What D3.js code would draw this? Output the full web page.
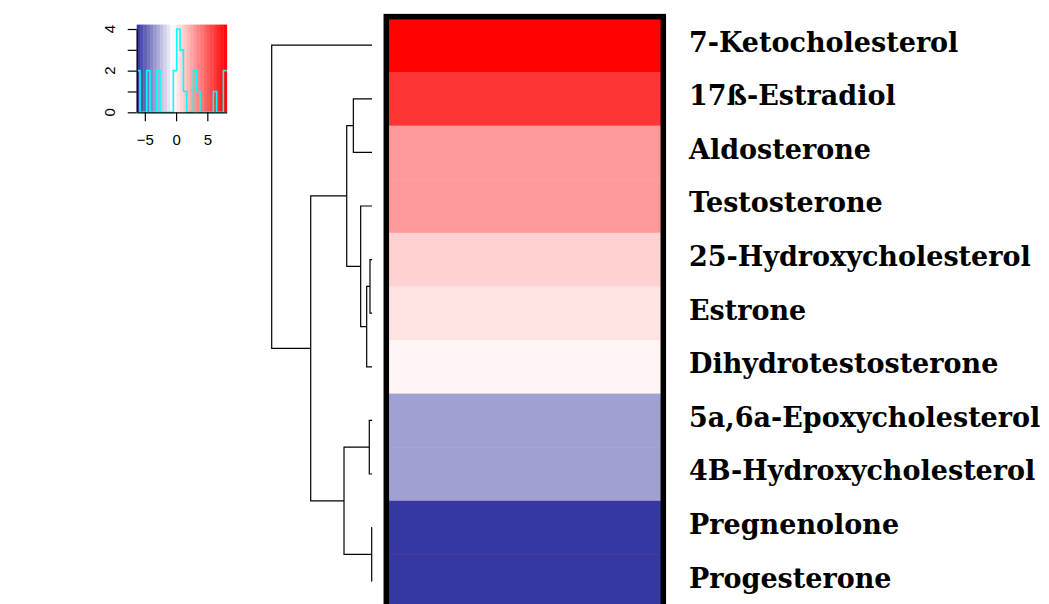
<!DOCTYPE html>
<html>
<head>
<meta charset="utf-8">
<script src="https://d3js.org/d3.v7.min.js"></script>
<style>
  body { margin: 0; background: #fff; }
</style>
</head>
<body>
<div id="chart"></div>
<script>
// rows, top to bottom (dendrogram order)
const compounds = ["7-Ketocholesterol", "17ß-Estradiol", "Aldosterone", "Testosterone",
  "25-Hydroxycholesterol", "Estrone", "Dihydrotestosterone", "5a,6a-Epoxycholesterol",
  "4B-Hydroxycholesterol", "Pregnenolone", "Progesterone"]
const values = [8.0, 6.3, 2.9, 2.9, 1.05, 0.45, -0.15, -3.2, -3.2, -6.2, -6.2]

// hclust style merges: negative = leaf number, positive = earlier merge
const mergeLeft   = [-10, -5, -8,  2, -4, -2, 6, 3, 7, -1]
const mergeRight  = [-11, -6, -9, -7,  4, -3, 5, 1, 8,  9]
const mergeHeight = [0.3, 2.0, 2.7, 5.3, 11.3, 18.6, 25.2, 27.9, 61.1, 100]

// colour key + histogram
const keyRange = [-6.3, 8.1]
const keyMid = -0.5
const keyTicks = [-5, 0, 5]
const countTicks = [0, 1, 2, 3, 4]
const countLabels = [0, 2, 4]
const histCounts = [2, 0, 0, 2, 0, 0, 2, 0, 0, 0, 0, 2, 4, 3, 1, 0, 0, 2, 1, 0, 0, 0, 0, 1, 0, 0, 2]

const width = 1049, height = 604

const svg = d3.select("#chart")
  .append("svg")
  .attr("width", width)
  .attr("height", height)
  .style("display", "block")

// Scales
const rowY = d3.scaleBand()
  .domain(compounds)
  .range([18.4, 18.4 + compounds.length * 53.6])

const color = d3.scaleLinear()
  .domain([keyRange[0], keyMid, keyRange[1]])
  .range(["#3333a0", "#ffffff", "#ff0000"])
  .clamp(true)

const hx = d3.scaleLinear()
  .domain([0, d3.max(mergeHeight)])
  .range([372, 271.7])

// Heatmap cells
svg.append("g")
  .selectAll("rect")
  .data(compounds)
  .join("rect")
  .attr("x", 389)
  .attr("y", d => rowY(d))
  .attr("width", 272)
  .attr("height", rowY.bandwidth() + 0.5)
  .attr("fill", (d, i) => color(values[i]))

svg.append("rect")
  .attr("x", 386.3)
  .attr("y", 16.6)
  .attr("width", 277)
  .attr("height", 640)
  .attr("fill", "none")
  .attr("stroke", "#000")
  .attr("stroke-width", 5.5)

// Dendrogram
const nodeY = []
const pos = id => id < 0
  ? { x: hx(0), y: rowY(compounds[-id - 1]) + rowY.bandwidth() / 2 }
  : { x: hx(mergeHeight[id - 1]), y: nodeY[id - 1] }

const links = mergeLeft.map((l, i) => {
  const a = pos(l), b = pos(mergeRight[i])
  const x = hx(mergeHeight[i])
  nodeY[i] = (a.y + b.y) / 2
  return `M${a.x},${a.y}H${x}V${b.y}H${b.x}`
})

svg.append("g")
  .selectAll("path")
  .data(links)
  .join("path")
  .attr("d", d => d)
  .attr("fill", "none")
  .attr("stroke", "#000")
  .attr("stroke-width", 1.2)

// Row labels
svg.append("g")
  .selectAll("text")
  .data(compounds)
  .join("text")
  .attr("x", 689)
  .attr("y", d => rowY(d) + rowY.bandwidth() / 2)
  .attr("dy", "0.24em")
  .attr("font-family", "DejaVu Serif")
  .attr("font-weight", "bold")
  .attr("font-size", 27)
  .attr("fill", "#000")
  .text(d => d)

// Colour key
const kx = d3.scaleLinear().domain(keyRange).range([136.7, 226.7])
const ky = d3.scaleLinear().domain([0, 4]).range([112.3, 29])
const binW = (keyRange[1] - keyRange[0]) / histCounts.length
const binStart = (d, i) => keyRange[0] + i * binW

const key = svg.append("g")

key.selectAll("rect")
  .data(histCounts)
  .join("rect")
  .attr("x", (d, i) => kx(binStart(d, i)))
  .attr("y", 24.6)
  .attr("width", kx(binW) - kx(0) + 0.4)
  .attr("height", 112.3 - 24.6)
  .attr("fill", (d, i) => color(binStart(d, i) + binW / 2))

const steps = histCounts.map((c, i) => [binStart(c, i), c])
steps.push([keyRange[1], histCounts[histCounts.length - 1]])

key.append("path")
  .datum(steps)
  .attr("d", d3.line()
    .x(d => kx(d[0]))
    .y(d => ky(d[1]))
    .curve(d3.curveStepAfter))
  .attr("fill", "none")
  .attr("stroke", "#00ffff")
  .attr("stroke-width", 1.6)

key.append("g")
  .attr("transform", "translate(0,112.3)")
  .call(d3.axisBottom(kx).tickValues(keyTicks).tickSize(9).tickSizeOuter(0).tickPadding(13))
  .call(g => g.selectAll("text").attr("font-size", 15).attr("font-family", "Liberation Sans"))
  .call(g => g.selectAll("line, path").attr("stroke", "#000").attr("stroke-width", 1.2))

key.append("g")
  .attr("transform", "translate(136.7,0)")
  .call(d3.axisLeft(ky).tickValues(countTicks).tickSize(9).tickSizeOuter(0).tickFormat(() => ""))
  .call(g => g.selectAll("line, path").attr("stroke", "#000").attr("stroke-width", 1.2))

key.append("g")
  .selectAll("text")
  .data(countLabels)
  .join("text")
  .attr("transform", d => `translate(115,${ky(d)}) rotate(-90)`)
  .attr("text-anchor", "middle")
  .attr("font-family", "Liberation Sans")
  .attr("font-size", 15)
  .text(d => d)
</script>
</body>
</html>
